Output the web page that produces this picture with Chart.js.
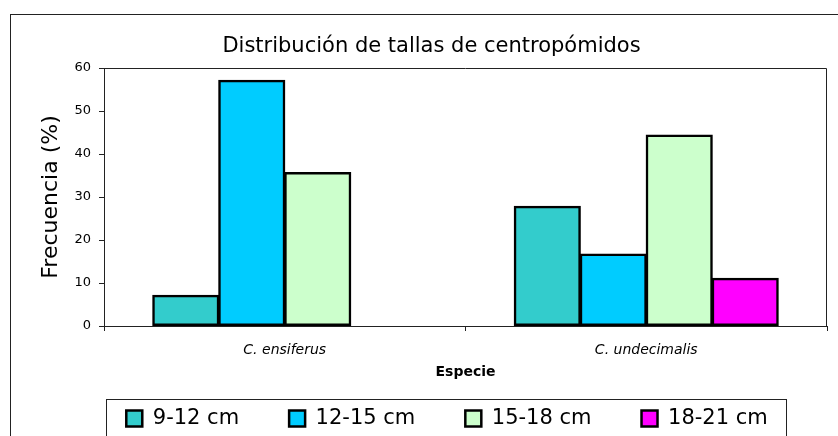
<!DOCTYPE html>
<html lang="es">
<head>
<meta charset="utf-8">
<title>Distribución de tallas de centropómidos</title>
<script src="https://cdn.jsdelivr.net/npm/chart.js@4.4.1/dist/chart.umd.min.js"></script>
<style>
    html, body { margin: 0; padding: 0; background: #ffffff; }
    #wrap { width: 838px; height: 436px; }
</style>
</head>
<body>
<div id="wrap"><canvas id="tallasChart" width="838" height="436"></canvas></div>
<script>
// ------------------------
// Data
// ------------------------
const especies = ['C. ensiferus', 'C. undecimalis'];
const talla9a12 = [7.1, 27.8];
const talla12a15 = [57.1, 16.7];
const talla15a18 = [35.7, 44.4];
const talla18a21 = [null, 11.1];   // no 18-21 cm fish for C. ensiferus
const ejeYMax = 60;
const ejeYPaso = 10;

// ------------------------
// Frames (outer chart box, plot box, legend box)
// ------------------------
const framePlugin = {
    id: 'frames',
    afterLayout(chart) {
        // put title and legend where the original has them
        const t = chart.titleBlock;
        t.left = 10; t.right = 853; t.width = t.right - t.left;

        const lg = chart.legend;
        lg.left = 74; lg.right = 820; lg.width = lg.right - lg.left;
        lg.top = 358; lg.bottom = 436; lg.height = lg.bottom - lg.top;
    },
    beforeDraw(chart) {
        const ctx = chart.ctx;
        ctx.save();
        ctx.fillStyle = '#ffffff';
        ctx.fillRect(0, 0, chart.width, chart.height);
        ctx.strokeStyle = '#222222';
        ctx.lineWidth = 1;
        ctx.strokeRect(10.5, 14.5, 900, 500);
        ctx.restore();
    },
    afterDraw(chart) {
        const ctx = chart.ctx;
        const a = chart.chartArea;
        ctx.save();
        ctx.strokeStyle = '#222222';
        ctx.lineWidth = 1;
        ctx.beginPath();
        ctx.moveTo(Math.round(a.left) + 0.5, Math.round(a.top) + 0.5);
        ctx.lineTo(Math.round(a.right) - 0.5, Math.round(a.top) + 0.5);
        ctx.lineTo(Math.round(a.right) - 0.5, Math.round(a.bottom));
        ctx.stroke();
        // legend frame
        ctx.strokeRect(106.5, 399.5, 680, 100);
        ctx.restore();
    }
};

// ------------------------
// Chart
// ------------------------
Chart.defaults.font.family = "'DejaVu Sans', Verdana, sans-serif";
Chart.defaults.color = '#000000';

function serie(label, data, color) {
    return {
        label: label,
        data: data,
        backgroundColor: color,
        borderColor: '#000000',
        borderWidth: 2.5,
        borderSkipped: false,
        inflateAmount: 0.6,
        categoryPercentage: 0.73,
        barPercentage: 1.0
    };
}

new Chart(document.getElementById('tallasChart'), {
    type: 'bar',
    data: {
        labels: especies,
        datasets: [
            serie('9-12 cm', talla9a12, '#33CCCC'),
            serie('12-15 cm', talla12a15, '#00CCFF'),
            serie('15-18 cm', talla15a18, '#CCFFCC'),
            serie('18-21 cm', talla18a21, '#FF00FF')
        ]
    },
    options: {
        responsive: false,
        animation: false,
        layout: { padding: { left: 10, right: 11, top: 0, bottom: 0 } },
        plugins: {
            title: {
                display: true,
                text: 'Distribución de tallas de centropómidos',
                font: { size: 21, weight: 'normal' },
                color: '#000000',
                padding: { top: 34.4, bottom: 8.4 }
            },
            legend: {
                position: 'bottom',
                maxHeight: 37,
                labels: {
                    font: { size: 21 },
                    boxWidth: 16,
                    boxHeight: 16,
                    padding: 50,
                    color: '#000000'
                }
            },
            tooltip: { enabled: false }
        },
        scales: {
            x: {
                grid: { drawOnChartArea: false, drawTicks: true, tickLength: 5, color: '#222222', offset: true },
                border: { display: true, color: '#222222', width: 1 },
                ticks: { font: { size: 14, style: 'italic' }, padding: 10.6, color: '#000000' },
                title: {
                    display: true,
                    text: 'Especie',
                    font: { size: 14, weight: 'bold' },
                    padding: { top: 0, bottom: 18.6 }
                },
                afterFit: (scale) => { scale.height = 73; }
            },
            y: {
                min: 0,
                max: ejeYMax,
                grid: { drawOnChartArea: false, drawTicks: true, tickLength: 5, color: '#222222' },
                border: { display: true, color: '#222222', width: 1 },
                ticks: { stepSize: ejeYPaso, font: { size: 13 }, padding: 8, color: '#000000' },
                title: {
                    display: true,
                    text: 'Frecuencia (%)',
                    font: { size: 22 },
                    padding: { top: 28.5, bottom: 0 }
                },
                afterFit: (scale) => { scale.width = 94; }
            }
        }
    },
    plugins: [framePlugin]
});
</script>
</body>
</html>
